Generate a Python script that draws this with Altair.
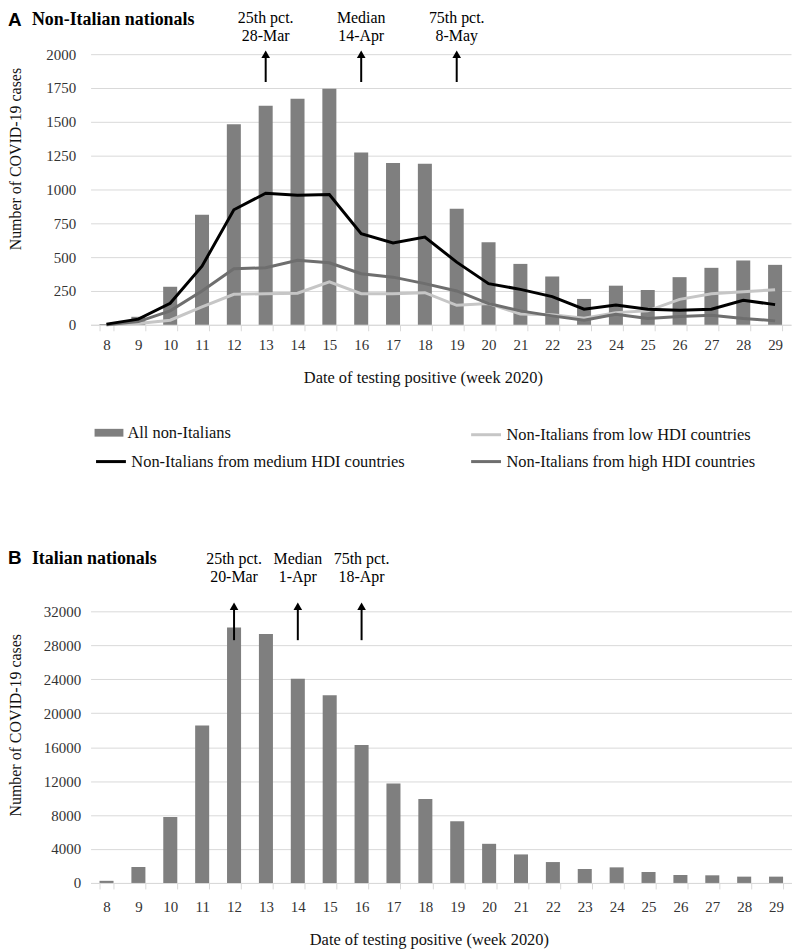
import altair as alt
import pandas as pd

# ---------------- data ----------------
weeks = list(range(8, 30))
all_non_italians = [5, 59, 281, 813, 1483, 1618, 1670, 1745, 1273, 1195, 1190,
                    857, 610, 450, 357, 191, 289, 257, 352, 421, 475, 443]
low_hdi = [0, 10, 34, 132, 225, 230, 233, 318, 230, 230, 237,
           144, 157, 80, 75, 49, 90, 103, 188, 230, 245, 259]
medium_hdi = [5, 42, 159, 433, 850, 972, 957, 962, 673, 605, 649,
              463, 304, 262, 208, 115, 147, 115, 108, 115, 181, 149]
high_hdi = [0, 24, 103, 250, 414, 421, 477, 458, 377, 352, 304,
            250, 157, 103, 66, 34, 78, 47, 61, 71, 47, 29]
italians = [250, 1875, 7775, 18558, 30084, 29342, 24067, 22114, 16253, 11721, 9885,
            7267, 4610, 3360, 2461, 1641, 1836, 1289, 938, 899, 742, 742]

series_names = ["All non-Italians",
                "Non-Italians from low HDI countries",
                "Non-Italians from medium HDI countries",
                "Non-Italians from high HDI countries"]
series_colors = ["#7f7f7f", "#c6c6c6", "#000000", "#6e6e6e"]

pct_labels = ["25th pct.", "Median", "75th pct."]
a_pct_weeks = [13, 16, 19]
a_pct_dates = ["28-Mar", "14-Apr", "8-May"]
b_pct_weeks = [12, 14, 16]
b_pct_dates = ["20-Mar", "1-Apr", "18-Apr"]

panel_letters = ["A", "B"]
panel_titles = ["Non-Italian nationals", "Italian nationals"]
x_title = "Date of testing positive (week 2020)"
y_title = "Number of COVID-19 cases"
a_ticks = list(range(0, 2001, 250))
b_ticks = list(range(0, 32001, 4000))

# ---------------- style ----------------
FONT = "Liberation Serif"
GRID = "#d9d9d9"
LAB = "#333333"
TXT = "#111111"


def x_enc(title_x, title_y, label_pad):
    return alt.X(
        "week:O",
        scale=alt.Scale(domain=weeks, paddingInner=0.56, paddingOuter=0.28),
        axis=alt.Axis(
            title=x_title, labelAngle=0, labelFont=FONT, labelFontSize=15,
            labelColor=LAB, labelPadding=label_pad, tickBand="extent", tickSize=6,
            tickColor=GRID, domainColor=GRID, grid=False,
            titleFont=FONT, titleFontSize=16.5, titleFontWeight="normal",
            titleColor=TXT, titleX=title_x, titleY=title_y,
            titleBaseline="middle", titleAlign="center",
        ),
    )


def y_enc(domain_max, ticks, title_x, title_y, label_pad):
    return alt.Y(
        "value:Q",
        scale=alt.Scale(domain=[0, domain_max], nice=False),
        axis=alt.Axis(
            title=y_title, values=ticks, format="d", grid=True, gridColor=GRID,
            domain=False, ticks=False, labelPadding=label_pad, labelFont=FONT,
            labelFontSize=15, labelColor=LAB,
            titleFont=FONT, titleFontSize=16, titleFontWeight="normal",
            titleColor=TXT, titleX=title_x, titleY=title_y, titleAngle=270,
            titleBaseline="middle", titleAlign="center",
        ),
    )


def leg(x, y, **kw):
    return alt.Legend(orient="none", legendX=x, legendY=y, title=None,
                      labelFont=FONT, labelFontSize=16.5, labelColor=TXT,
                      labelLimit=500, padding=0, labelOffset=4, **kw)


def annotations(pct_weeks, pct_dates, xe, y_l1, y_l2, y_tip, y_base):
    df = pd.DataFrame({"week": pct_weeks, "l1": pct_labels, "l2": pct_dates})
    base = alt.Chart(df)
    rule = base.mark_rule(color="black", strokeWidth=2).encode(
        x=xe, y=alt.value(y_tip + 6), y2=alt.value(y_base))
    head = base.mark_point(shape="triangle-up", filled=True, size=75,
                           color="black", opacity=1).encode(
        x=xe, y=alt.value(y_tip + 5))
    t1 = base.mark_text(font=FONT, fontSize=16, color="black",
                        baseline="alphabetic").encode(
        x=xe, y=alt.value(y_l1), text="l1:N")
    t2 = base.mark_text(font=FONT, fontSize=16, color="black",
                        baseline="alphabetic").encode(
        x=xe, y=alt.value(y_l2), text="l2:N")
    return [rule, head, t1, t2]


def panel_title(idx, x_letter, x_title_txt, y_letter, y_txt):
    df = pd.DataFrame({"letter": [panel_letters[idx]], "title": [panel_titles[idx]]})
    base = alt.Chart(df)
    letter = base.mark_text(font="Liberation Sans", fontWeight="bold", fontSize=19,
                            align="left", baseline="alphabetic", color="black").encode(
        x=alt.value(x_letter), y=alt.value(y_letter), text="letter:N")
    ttl = base.mark_text(font=FONT, fontWeight="bold", fontSize=18,
                         align="left", baseline="alphabetic", color="black").encode(
        x=alt.value(x_title_txt), y=alt.value(y_txt), text="title:N")
    return [letter, ttl]


# ---------------- panel A ----------------
xA = x_enc(334, 53, 7)
yA = y_enc(2000, a_ticks, -75, 105, 15)

dfA = pd.DataFrame({"week": weeks, "value": all_non_italians, "series": series_names[0]})
barsA = alt.Chart(dfA).mark_bar().encode(
    x=xA, y=yA,
    color=alt.Color("series:N",
                    scale=alt.Scale(domain=[series_names[0]], range=[series_colors[0]]),
                    legend=leg(4, 366, symbolType="M-1,-0.27H1V0.27H-1Z",
                               symbolSize=841, symbolStrokeWidth=0)),
)

line_values = {1: low_hdi, 2: medium_hdi, 3: high_hdi}
legend_pos = {1: (381, 366), 2: (4, 393), 3: (381, 393)}
line_layers = []
for i in [1, 3, 2]:
    d = pd.DataFrame({"week": weeks, "value": line_values[i], "series": series_names[i]})
    lx, ly = legend_pos[i]
    line_layers.append(
        alt.Chart(d).mark_line(strokeWidth=3).encode(
            x=xA, y=yA,
            stroke=alt.Stroke("series:N",
                              scale=alt.Scale(domain=[series_names[i]], range=[series_colors[i]]),
                              legend=leg(lx, ly, symbolType="stroke", symbolSize=900,
                                         symbolStrokeWidth=3)),
        )
    )

panelA = alt.layer(
    barsA, *line_layers,
    *annotations(a_pct_weeks, a_pct_dates, xA, -31, -13, -5, 28),
    *panel_title(0, -83, -59, -28, -29),
).resolve_scale(stroke="independent", color="independent").resolve_legend(
    stroke="independent", color="independent"
).properties(width=704, height=272)

# ---------------- panel B ----------------
xB = x_enc(340, 57, 11)
yB = y_enc(32000, b_ticks, -75, 114, 10)
dfB = pd.DataFrame({"week": weeks, "value": italians})
barsB = alt.Chart(dfB).mark_bar(color=series_colors[0]).encode(x=xB, y=yB)

panelB = alt.layer(
    barsB,
    *annotations(b_pct_weeks, b_pct_dates, xB, -48, -29, -10, 29),
    *panel_title(1, -83, -59, -48, -48),
).properties(width=705, height=273)

chart = alt.concat(panelA, panelB, columns=1, align="none", spacing=79).properties(
    padding=0
).configure_view(stroke=None)

chart.save("out.html", embed_options={"renderer": "svg", "actions": False})
